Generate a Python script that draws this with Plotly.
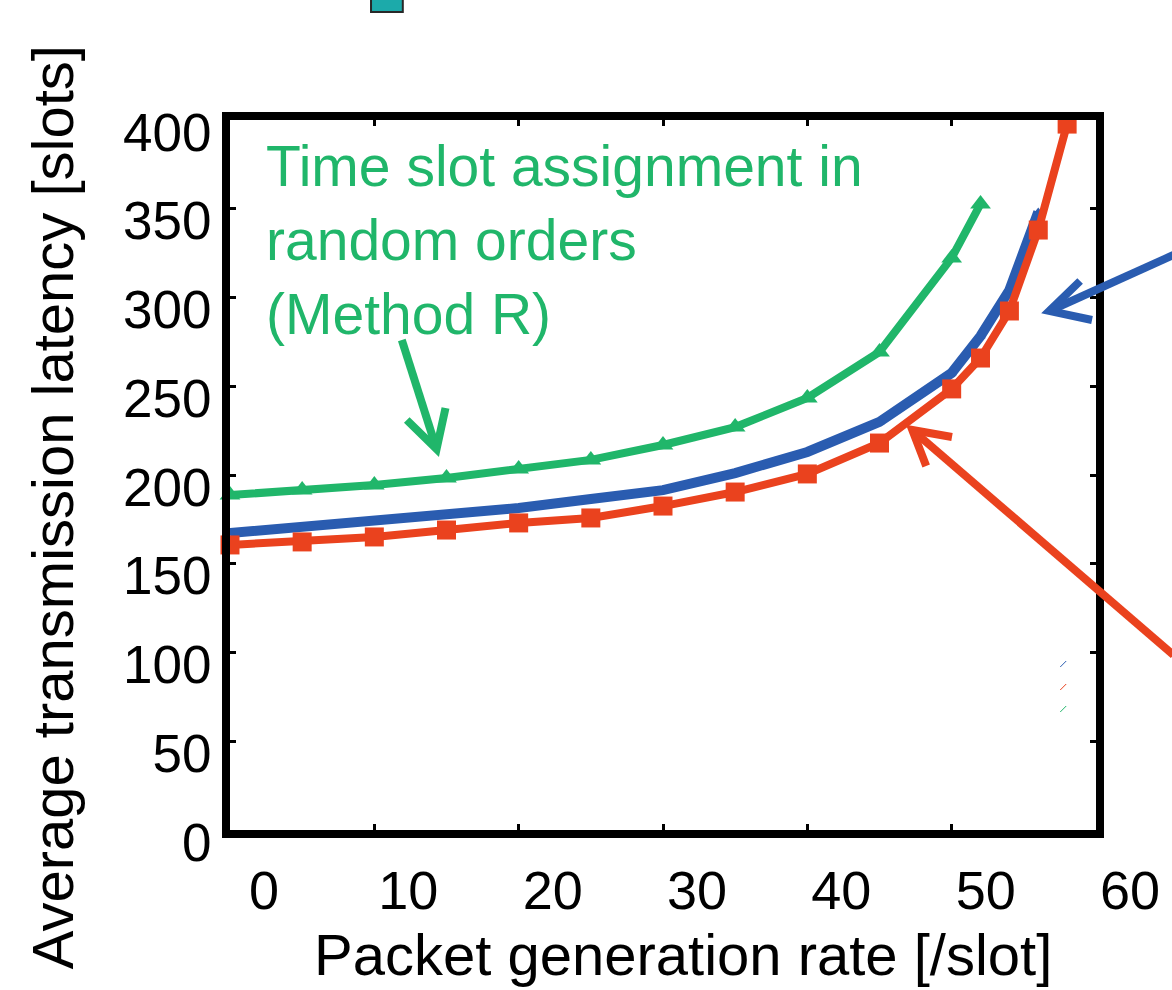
import plotly.graph_objects as go

# ---- data ----
rate_red = [0, 5, 10, 15, 20, 25, 30, 35, 40, 45, 50, 52, 54, 56, 58]
latency_red = [160.6, 162.3, 165.1, 169.0, 173.0, 175.8, 182.5, 190.4, 200.6, 218.0, 248.5, 265.9, 292.4, 338.0, 397.7]

rate_blue = [0, 5, 10, 15, 20, 25, 30, 35, 40, 45, 50, 52, 54, 56]
latency_blue = [167.3, 170.7, 173.5, 176.9, 181.4, 186.5, 191.5, 201.1, 213.0, 229.9, 257.5, 278.3, 304.2, 348.2]

rate_green = [0, 5, 10, 15, 20, 25, 30, 35, 40, 45, 50, 52]
latency_green = [188.7, 191.5, 194.4, 198.3, 203.4, 208.5, 216.9, 227.0, 243.4, 269.3, 322.3, 352.7]

x_ticks = [0, 10, 20, 30, 40, 50, 60]
y_ticks = [0, 50, 100, 150, 200, 250, 300, 350, 400]

note_green = "Time slot assignment in<br>random orders<br>(Method R)"
x_title = "Packet generation rate [/slot]"
y_title = "Average transmission latency [slots]"

GREEN = "rgb(32,182,106)"
RED = "rgb(234,66,30)"
BLUE = "rgb(42,92,176)"
FONT = "Liberation Sans, Arial, sans-serif"

W, H = 1172, 990
L, R, T, B = 230, 70, 120, 160
PW, PH = W - L - R, H - T - B


def px(xp):
    return (xp - L) / PW


def py(yp):
    return (H - B - yp) / PH


fig = go.Figure()
fig.add_trace(go.Scatter(x=rate_blue, y=latency_blue, mode="lines+markers",
                         line=dict(color=BLUE, width=10),
                         marker=dict(symbol="triangle-up", size=9, color=BLUE),
                         cliponaxis=False, showlegend=False))
fig.add_trace(go.Scatter(x=rate_red, y=latency_red, mode="lines+markers",
                         line=dict(color=RED, width=8),
                         marker=dict(symbol="square", size=19, color=RED),
                         cliponaxis=False, showlegend=False))
fig.add_trace(go.Scatter(x=rate_green, y=latency_green, mode="lines+markers",
                         line=dict(color=GREEN, width=8),
                         marker=dict(symbol="triangle-up", size=18, color=GREEN),
                         cliponaxis=False, showlegend=False))

shapes = []


def arrow(tail, tip, w1, w2, color, width=8):
    shapes.append(dict(type="path", xref="paper", yref="paper",
                       path=f"M{px(tail[0])},{py(tail[1])} L{px(tip[0])},{py(tip[1])}",
                       line=dict(color=color, width=width)))
    shapes.append(dict(type="path", xref="paper", yref="paper",
                       path=f"M{px(w1[0])},{py(w1[1])} L{px(tip[0])},{py(tip[1])} L{px(w2[0])},{py(w2[1])}",
                       line=dict(color=color, width=width)))


# decorative annotation arrows
arrow((403, 340), (438, 449), (408, 420), (447, 408), GREEN)
arrow((1180, 255), (1055, 311), (1086, 281), (1098, 320), BLUE)
arrow((1180, 655), (917, 430), (957, 437), (931, 466), RED)

# partially visible legend square at the top
shapes.append(dict(type="rect", xref="paper", yref="paper",
                   x0=px(372), x1=px(404), y0=py(12), y1=py(-10),
                   fillcolor="rgb(28,170,170)", line=dict(color="rgb(40,40,40)", width=2)))
# tiny legend remnants
for yy, c in [(664, BLUE), (687, RED), (709, GREEN)]:
    shapes.append(dict(type="line", xref="paper", yref="paper",
                       x0=px(1066), x1=px(1072), y0=py(yy + 3), y1=py(yy - 3),
                       line=dict(color=c, width=1)))

fig.update_layout(
    width=W, height=H,
    margin=dict(l=L, r=R, t=T, b=B),
    paper_bgcolor="white", plot_bgcolor="white",
    font=dict(family=FONT, color="black"),
    shapes=shapes,
    annotations=[
        dict(text=note_green, xref="paper", yref="paper", x=px(264), y=py(132),
             xanchor="left", yanchor="top", align="left", showarrow=False,
             font=dict(size=57, color=GREEN, family=FONT)),
        dict(text=y_title, xref="paper", yref="paper", x=px(52), y=py(507),
             xanchor="center", yanchor="middle", textangle=-90, showarrow=False,
             font=dict(size=58, color="black", family=FONT)),
        dict(text=x_title, xref="paper", yref="paper", x=px(686), y=py(954),
             xanchor="center", yanchor="middle", showarrow=False,
             font=dict(size=58, color="black", family=FONT)),
    ],
)

fig.update_xaxes(range=[0, 60], tickvals=x_ticks, ticktext=[str(v) for v in x_ticks],
                 showgrid=False, zeroline=False,
                 showline=True, linecolor="black", linewidth=8, mirror="ticks",
                 ticks="inside", ticklen=6, tickwidth=3, tickcolor="black",
                 tickfont=dict(size=54, family=FONT, color="black"),
                 ticklabelshift=34, ticklabelstandoff=6)
fig.update_yaxes(range=[0, 400], tickvals=y_ticks, ticktext=[str(v) for v in y_ticks],
                 showgrid=False, zeroline=False,
                 showline=True, linecolor="black", linewidth=8, mirror="ticks",
                 ticks="inside", ticklen=6, tickwidth=3, tickcolor="black",
                 tickfont=dict(size=53, family=FONT, color="black"),
                 ticklabelshift=12, ticklabelstandoff=0)

fig.write_html("out.html")
